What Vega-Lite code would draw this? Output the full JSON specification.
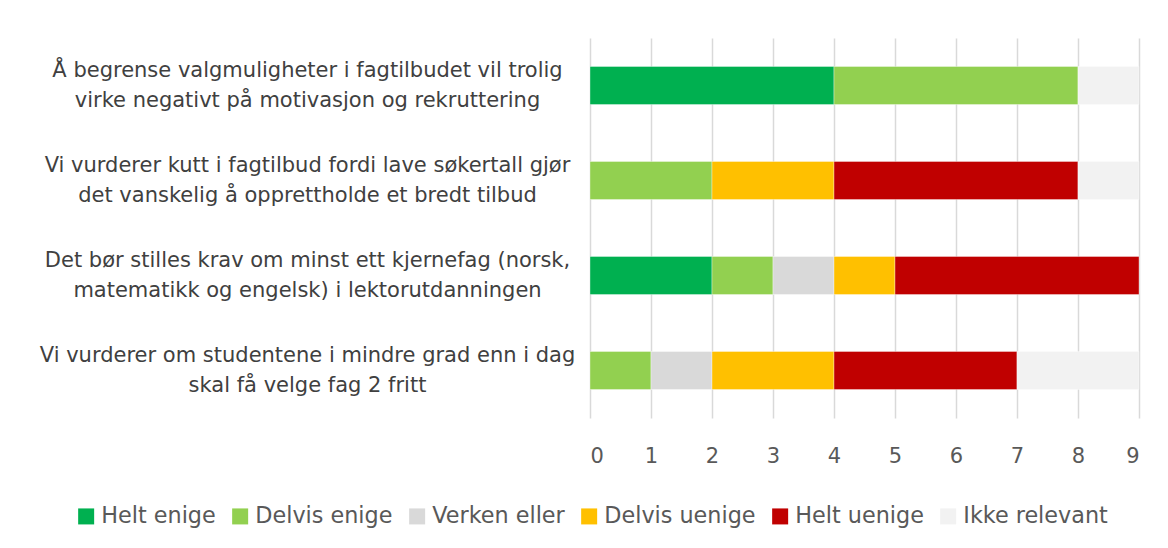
{
  "$schema": "https://vega.github.io/schema/vega-lite/v6.json",
  "width": 549,
  "height": 380,
  "autosize": {"type": "none"},
  "padding": {"left": 590, "top": 38, "right": 29, "bottom": 130},
  "background": "white",
  "config": {
    "font": "DejaVu Sans",
    "view": {"stroke": null}
  },
  "data": {
    "values": [
      {"q": "Å begrense valgmuligheter i fagtilbudet vil trolig|virke negativt på motivasjon og rekruttering", "cat": "Helt enige", "n": 4},
      {"q": "Å begrense valgmuligheter i fagtilbudet vil trolig|virke negativt på motivasjon og rekruttering", "cat": "Delvis enige", "n": 4},
      {"q": "Å begrense valgmuligheter i fagtilbudet vil trolig|virke negativt på motivasjon og rekruttering", "cat": "Ikke relevant", "n": 1},
      {"q": "Vi vurderer kutt i fagtilbud fordi lave søkertall gjør|det vanskelig å opprettholde et bredt tilbud", "cat": "Delvis enige", "n": 2},
      {"q": "Vi vurderer kutt i fagtilbud fordi lave søkertall gjør|det vanskelig å opprettholde et bredt tilbud", "cat": "Delvis uenige", "n": 2},
      {"q": "Vi vurderer kutt i fagtilbud fordi lave søkertall gjør|det vanskelig å opprettholde et bredt tilbud", "cat": "Helt uenige", "n": 4},
      {"q": "Vi vurderer kutt i fagtilbud fordi lave søkertall gjør|det vanskelig å opprettholde et bredt tilbud", "cat": "Ikke relevant", "n": 1},
      {"q": "Det bør stilles krav om minst ett kjernefag (norsk,|matematikk og engelsk) i lektorutdanningen", "cat": "Helt enige", "n": 2},
      {"q": "Det bør stilles krav om minst ett kjernefag (norsk,|matematikk og engelsk) i lektorutdanningen", "cat": "Delvis enige", "n": 1},
      {"q": "Det bør stilles krav om minst ett kjernefag (norsk,|matematikk og engelsk) i lektorutdanningen", "cat": "Verken eller", "n": 1},
      {"q": "Det bør stilles krav om minst ett kjernefag (norsk,|matematikk og engelsk) i lektorutdanningen", "cat": "Delvis uenige", "n": 1},
      {"q": "Det bør stilles krav om minst ett kjernefag (norsk,|matematikk og engelsk) i lektorutdanningen", "cat": "Helt uenige", "n": 4},
      {"q": "Vi vurderer om studentene i mindre grad enn i dag|skal få velge fag 2 fritt", "cat": "Delvis enige", "n": 1},
      {"q": "Vi vurderer om studentene i mindre grad enn i dag|skal få velge fag 2 fritt", "cat": "Verken eller", "n": 1},
      {"q": "Vi vurderer om studentene i mindre grad enn i dag|skal få velge fag 2 fritt", "cat": "Delvis uenige", "n": 2},
      {"q": "Vi vurderer om studentene i mindre grad enn i dag|skal få velge fag 2 fritt", "cat": "Helt uenige", "n": 3},
      {"q": "Vi vurderer om studentene i mindre grad enn i dag|skal få velge fag 2 fritt", "cat": "Ikke relevant", "n": 2}
    ]
  },
  "transform": [
    {"calculate": "indexof(['Helt enige','Delvis enige','Verken eller','Delvis uenige','Helt uenige','Ikke relevant'], datum.cat)", "as": "ord"}
  ],
  "mark": {"type": "bar", "stroke": "white", "strokeWidth": 0.6, "strokeOpacity": 0.6},
  "encoding": {
    "y": {
      "field": "q",
      "type": "nominal",
      "sort": null,
      "scale": {"paddingInner": 0.6, "paddingOuter": 0.3},
      "axis": {
        "title": null,
        "domain": false,
        "ticks": false,
        "labelAlign": "center",
        "labelPadding": 283,
        "labelOffset": -15,
        "labelExpr": "split(datum.label, '|')",
        "labelFontSize": 21,
        "labelColor": "#404040",
        "labelLineHeight": 30,
        "labelLimit": 700
      }
    },
    "x": {
      "field": "n",
      "type": "quantitative",
      "stack": "zero",
      "scale": {"domain": [0, 9], "nice": false},
      "axis": {
        "title": null,
        "values": [0, 1, 2, 3, 4, 5, 6, 7, 8, 9],
        "format": "d",
        "domain": false,
        "ticks": false,
        "labelPadding": 27,
        "labelFontSize": 21,
        "labelColor": "#595959",
        "gridColor": "#D9D9D9",
        "gridWidth": 1.5
      }
    },
    "color": {
      "field": "cat",
      "type": "nominal",
      "scale": {
        "domain": ["Helt enige", "Delvis enige", "Verken eller", "Delvis uenige", "Helt uenige", "Ikke relevant"],
        "range": ["#00B050", "#92D050", "#D9D9D9", "#FFC000", "#C00000", "#F2F2F2"]
      },
      "legend": {
        "title": null,
        "orient": "none",
        "direction": "horizontal",
        "legendX": -515,
        "legendY": 467,
        "symbolType": "square",
        "symbolSize": 256,
        "symbolStrokeWidth": 0,
        "labelFontSize": 22.3,
        "labelColor": "#595959",
        "labelOffset": 4,
        "columnPadding": 13,
        "labelLimit": 300
      }
    },
    "order": {"field": "ord", "type": "quantitative"}
  }
}
